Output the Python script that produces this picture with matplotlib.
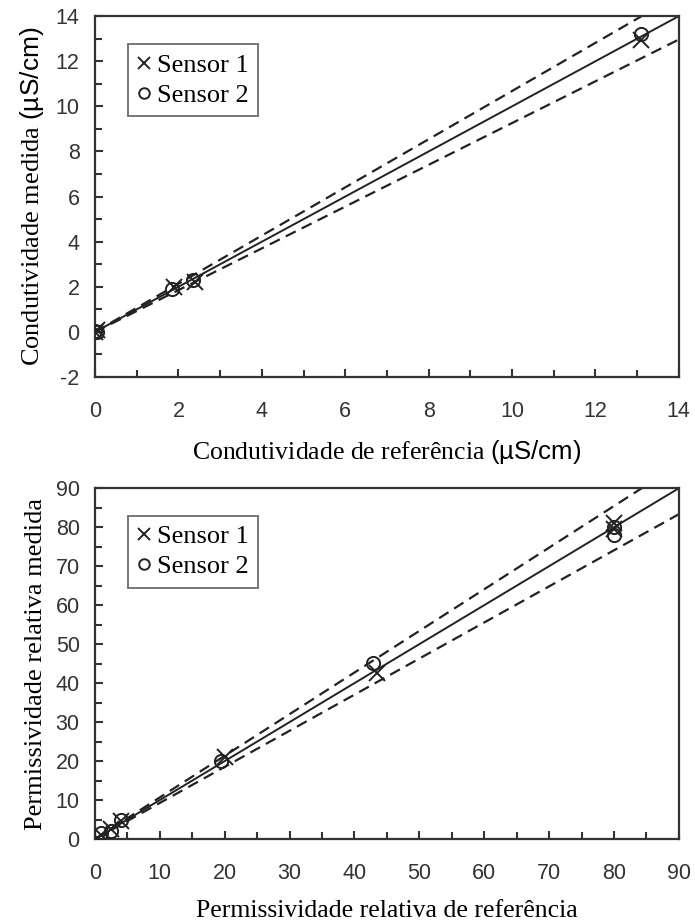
import numpy as np
import matplotlib.pyplot as plt
from matplotlib.ticker import MultipleLocator

# condutividade (uS/cm)
cond_ref_s1 = [0.0, 0.05, 1.9, 2.4, 13.1]
cond_med_s1 = [0.0, 0.1, 2.0, 2.2, 12.95]
cond_ref_s2 = [0.0, 0.05, 1.85, 2.35, 13.1]
cond_med_s2 = [0.05, 0.0, 1.9, 2.3, 13.2]

# permissividade relativa
perm_ref_s1 = [1.0, 2.5, 4.0, 20.0, 43.4, 80.0, 80.0]
perm_med_s1 = [1.0, 2.5, 4.5, 21.0, 42.6, 81.0, 79.5]
perm_ref_s2 = [1.0, 2.5, 4.0, 19.5, 42.8, 80.0, 80.0]
perm_med_s2 = [1.5, 2.0, 4.8, 20.0, 45.1, 80.0, 78.0]

# limites de +-7 %
upper_slope = 1.068
lower_slope = 0.926

serif = 'Liberation Serif'
sans = 'Liberation Sans'
tick_col = '#333333'

plt.rcParams['axes.unicode_minus'] = False
plt.rcParams['mathtext.fontset'] = 'custom'
plt.rcParams['mathtext.rm'] = serif
plt.rcParams['mathtext.sf'] = sans

fig = plt.figure(figsize=(6.95, 9.23), dpi=100)
ax1 = fig.add_axes([0.1367, 0.5915, 0.840, 0.391])
ax2 = fig.add_axes([0.1367, 0.0910, 0.840, 0.380])


def draw(ax, xs1, ys1, xs2, ys2, lo, hi, major, minor, xlabel, ylabel, ylo, ylpad):
    xx = np.array([0, hi])
    ax.plot(xx, xx, color='#222222', lw=1.4, zorder=2)
    ax.plot(xx, upper_slope * xx, color='#222222', lw=1.6, ls=(0, (5, 3)), zorder=2)
    ax.plot(xx, lower_slope * xx, color='#222222', lw=1.6, ls=(0, (5, 3)), zorder=2)
    ax.plot(xs1, ys1, ls='none', marker='x', ms=11, mew=1.4, color='#222222',
            label='Sensor 1', zorder=3)
    ax.plot(xs2, ys2, ls='none', marker='o', ms=9.5, mew=1.4, mfc='none',
            color='#222222', label='Sensor 2', zorder=3)
    ax.set_xlim(lo, hi)
    ax.set_ylim(ylo, hi)
    ax.xaxis.set_major_locator(MultipleLocator(major))
    ax.yaxis.set_major_locator(MultipleLocator(major))
    ax.xaxis.set_minor_locator(MultipleLocator(minor))
    ax.yaxis.set_minor_locator(MultipleLocator(minor))
    ax.tick_params(which='both', direction='in', top=False, right=False,
                   colors=tick_col, width=1.5)
    ax.tick_params(which='major', length=6, labelsize=15.5)
    ax.tick_params(axis='x', which='major', pad=17)
    ax.tick_params(axis='y', which='major', pad=11)
    ax.tick_params(which='minor', length=5)
    for lab in ax.get_xticklabels() + ax.get_yticklabels():
        lab.set_fontfamily(sans)
    for sp in ax.spines.values():
        sp.set_linewidth(1.6)
        sp.set_color(tick_col)
    ax.set_xlabel(xlabel, fontfamily=serif, fontsize=18.5, labelpad=12)
    ax.set_ylabel(ylabel, fontfamily=serif, fontsize=19, labelpad=ylpad)
    leg = ax.legend(loc='upper left', bbox_to_anchor=(0.056, 0.922),
                    prop={'family': serif, 'size': 19}, frameon=True,
                    fancybox=False, edgecolor='#555555', handlelength=0.5,
                    handletextpad=0.25, borderpad=0.35, labelspacing=0.25,
                    borderaxespad=0, markerscale=0.8)
    leg.get_frame().set_linewidth(1.4)


draw(ax1, cond_ref_s1, cond_med_s1, cond_ref_s2, cond_med_s2, 0, 14, 2, 1,
     r'Condutividade de referência $\mathsf{(µS/cm)}$',
     r'Condutividade medida $\mathsf{(µS/cm)}$', -2, 7)
draw(ax2, perm_ref_s1, perm_med_s1, perm_ref_s2, perm_med_s2, 0, 90, 10, 5,
     'Permissividade relativa de referência', 'Permissividade relativa medida', 0, 6)

fig.savefig('out.png', dpi=100)
